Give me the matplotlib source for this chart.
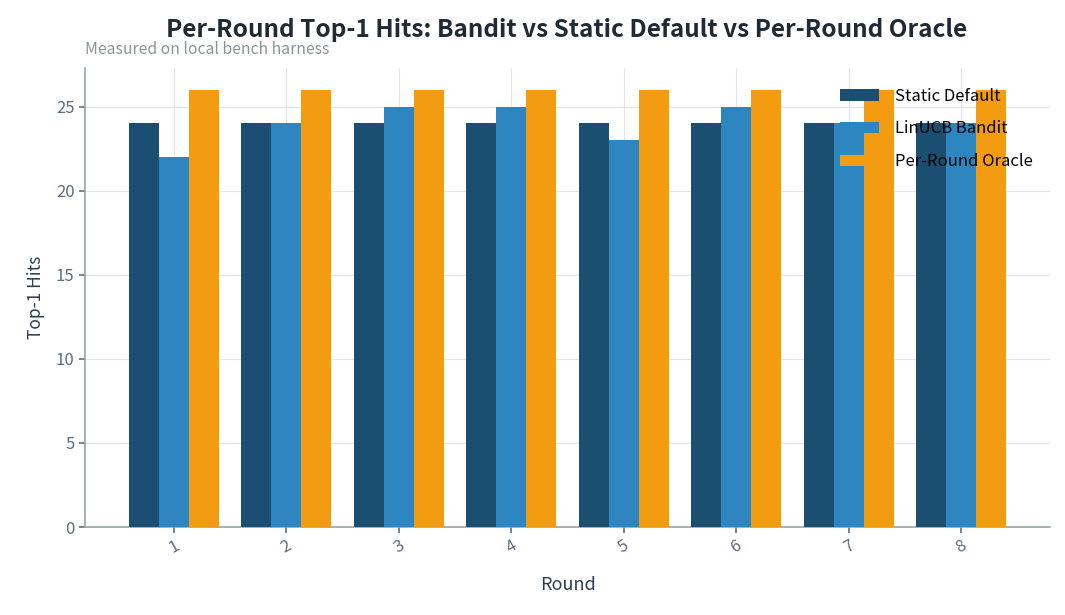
import matplotlib
matplotlib.use("Agg")
import matplotlib.pyplot as plt
import numpy as np

plt.rcParams['font.family'] = ['Noto Sans CJK KR', 'DejaVu Sans']

rounds = ["1", "2", "3", "4", "5", "6", "7", "8"]
static_default = [24, 24, 24, 24, 24, 24, 24, 24]
linucb_bandit = [22, 24, 25, 25, 23, 25, 24, 24]
oracle = [26, 26, 26, 26, 26, 26, 26, 26]
series_names = ["Static Default", "LinUCB Bandit", "Per-Round Oracle"]
colors = ["#1b4f72", "#2e86c1", "#f39c12"]

fig = plt.figure(figsize=(10.65, 6.15), dpi=100)
ax = fig.add_axes([85/1065, 1-527/615, (1050-85)/1065, (527-68)/615])

x = np.arange(len(rounds))
w = 0.8 / 3
for i, (vals, name, c) in enumerate(zip([static_default, linucb_bandit, oracle], series_names, colors)):
    ax.bar(x + (i - 1) * w, vals, w, label=name, color=c, zorder=3)

ax.set_xticks(x)
ax.set_xticklabels(rounds, rotation=30)
ax.grid(True, color="#e3e6e8", linewidth=0.8, zorder=0)
ax.set_axisbelow(True)
for s in ["top", "right"]:
    ax.spines[s].set_visible(False)
for s in ["left", "bottom"]:
    ax.spines[s].set_color("#95a5a6")
    ax.spines[s].set_linewidth(1.2)
ax.tick_params(colors="#5d6d7e", labelsize=12)
ax.tick_params(axis='both', color="#5d6d7e", length=4, width=1.2)

ax.set_xlabel("Round", fontsize=13, color="#2c3e50", labelpad=14)
ax.set_ylabel("Top-1 Hits", fontsize=12.5, color="#2c3e50", labelpad=8)

fig.text(567/1065, 1-30/615, "Per-Round Top-1 Hits: Bandit vs Static Default vs Per-Round Oracle",
         ha="center", va="center", fontsize=17.5, fontweight="bold", color="#1f2a36")
fig.text(85/1065, 1-49/615, "Measured on local bench harness", ha="left", va="center",
         fontsize=11.3, color="#8a9597")

ax.legend(loc="upper right", bbox_to_anchor=(1.0, 1.0 - 3/459), frameon=False, fontsize=12,
          labelspacing=0.95, handlelength=2.3, handletextpad=1.0, borderaxespad=0.6)

fig.savefig("out.png", dpi=100)
